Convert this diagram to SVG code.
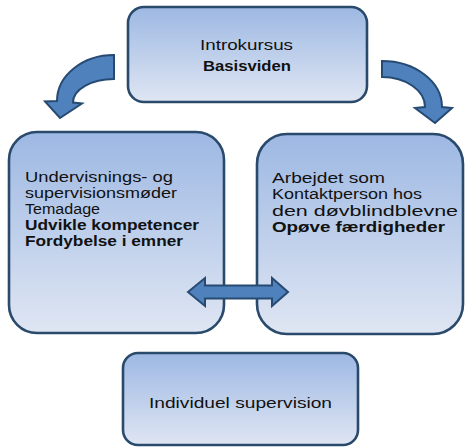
<svg xmlns="http://www.w3.org/2000/svg" width="466" height="447" viewBox="0 0 466 447">
<defs>
<linearGradient id="g" x1="0" y1="0" x2="0" y2="1">
<stop offset="0" stop-color="#9db8e3"/>
<stop offset="1" stop-color="#dfe6f3"/>
</linearGradient>
<style>
.box{fill:url(#g);stroke:#2a4a6c;stroke-width:2.6}
.arr{fill:#4f81bd;stroke:#264a72;stroke-width:2;stroke-linejoin:miter}
text{font-family:"Liberation Sans",Arial,sans-serif;font-size:13.8px;fill:#111}
.big{font-size:15px}
.b{font-weight:bold}
.c{text-anchor:middle}
</style>
</defs>
<rect width="466" height="447" fill="#fff"/>
<g id="intro">
<rect class="box" x="128" y="7" width="239" height="95" rx="16"/>
<text class="c big" x="246.5" y="50" textLength="93" lengthAdjust="spacingAndGlyphs">Introkursus</text>
<text class="c b big" x="247" y="71" textLength="88" lengthAdjust="spacingAndGlyphs">Basisviden</text>
</g>
<g id="undervisning">
<rect class="box" x="9" y="132" width="215" height="201" rx="28"/>
<text x="25" y="182" textLength="148" lengthAdjust="spacingAndGlyphs">Undervisnings- og</text>
<text x="25" y="198" textLength="152" lengthAdjust="spacingAndGlyphs">supervisionsmøder</text>
<text x="25" y="214" textLength="75" lengthAdjust="spacingAndGlyphs">Temadage</text>
<text class="b" x="25" y="230" textLength="174" lengthAdjust="spacingAndGlyphs">Udvikle kompetencer</text>
<text class="b" x="25" y="246" textLength="158" lengthAdjust="spacingAndGlyphs">Fordybelse i emner</text>
</g>
<g id="kontaktperson">
<rect class="box" x="257" y="134" width="206" height="200" rx="30"/>
<text x="272" y="182.5" textLength="113" lengthAdjust="spacingAndGlyphs">Arbejdet som</text>
<text x="272" y="199" textLength="150" lengthAdjust="spacingAndGlyphs">Kontaktperson hos</text>
<text x="272" y="215.5" textLength="186" lengthAdjust="spacingAndGlyphs">den døvblindblevne</text>
<text class="b" x="272" y="232" textLength="173" lengthAdjust="spacingAndGlyphs">Opøve færdigheder</text>
</g>
<g id="supervision">
<rect class="box" x="123" y="353" width="235" height="92" rx="15"/>
<text class="c big" x="240.5" y="408" textLength="183" lengthAdjust="spacingAndGlyphs">Individuel supervision</text>
</g>
<g id="connectors">
<path class="arr" d="M114,55 A57,46 0 0 0 57,101 L45,101.5 L60,118 L82,103.5 L73,102.5 A41,23.5 0 0 1 114,79 Z"/>
<path class="arr" d="M382,61 A60,46 0 0 1 442,107 L452,108 L435,123 L415,108 L425,107 A43,30 0 0 0 382,77 Z"/>
<path class="arr" d="M188,292 L205,278 L205,285.5 L272,285.5 L272,278 L288,292 L272,306 L272,298.5 L205,298.5 L205,306 Z"/>
</g>
</svg>
